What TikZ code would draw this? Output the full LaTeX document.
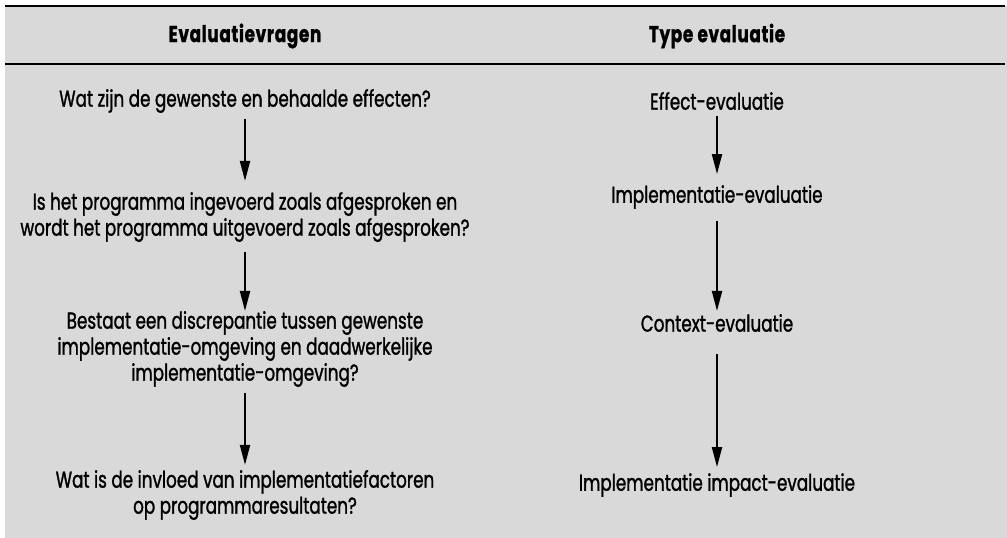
\documentclass[tikz,border=0pt]{standalone}
\usepackage{fontspec}
\setmainfont{Poppins}[FakeStretch=0.73,FakeBold=1.2]
\usetikzlibrary{arrows.meta}
\definecolor{bg}{HTML}{D9D9D9}
\begin{document}
\begin{tikzpicture}[x=1pt,y=-1pt,
  txt/.style={font=\fontsize{23}{26}\selectfont, align=center, inner sep=0pt, text=black},
  head/.style={font=\fontsize{23}{26}\selectfont\bfseries\addfontfeature{LetterSpace=3}, inner sep=0pt},
  arr/.style={line width=2pt, -{Triangle[length=20pt,width=10pt]}}]
\useasboundingbox (0,0) rectangle (1007,538);
\fill[white] (0,0) rectangle (1007,538);
\fill[bg] (5,6) rectangle (1007,538);
\draw[line width=2pt] (5,6) -- (1005,6);
\draw[line width=2pt] (5,64) -- (1005,64);
\node[head] (h1) at (245,36) {Evaluatievragen};
\node[head] (h2) at (717,36) {Type evaluatie};
\node[txt] (q1) at (245,101) {Wat zijn de gewenste en behaalde effecten?};
\node[txt] (q2) at (245,217) {Is het programma ingevoerd zoals afgesproken en\\wordt het programma uitgevoerd zoals afgesproken?};
\node[txt] (q3) at (245,349) {Bestaat een discrepantie tussen gewenste\\implementatie-omgeving en daadwerkelijke\\implementatie-omgeving?};
\node[txt] (q4) at (245,495) {Wat is de invloed van implementatiefactoren\\op programmaresultaten?};
\node[txt] (t1) at (717,101) {Effect-evaluatie};
\node[txt] (t2) at (717,197) {Implementatie-evaluatie};
\node[txt] (t3) at (717,323) {Context-evaluatie};
\node[txt] (t4) at (717,485) {Implementatie impact-evaluatie};
\draw[arr] ([yshift=-6pt]q1.south) -- ([yshift=11pt]q2.north);
\draw[arr] ([yshift=-10pt]q2.south) -- ([yshift=0pt]q3.north);
\draw[arr] ([yshift=-6pt]q3.south) -- ([yshift=5pt]q4.north);
\draw[arr] ([yshift=-6pt]t1.south) -- ([yshift=11pt]t2.north);
\draw[arr] ([yshift=-12pt]t2.south) -- ([yshift=3pt]t3.north);
\draw[arr] ([yshift=-22pt]t3.south) -- ([yshift=6pt]t4.north);
\end{tikzpicture}
\end{document}
